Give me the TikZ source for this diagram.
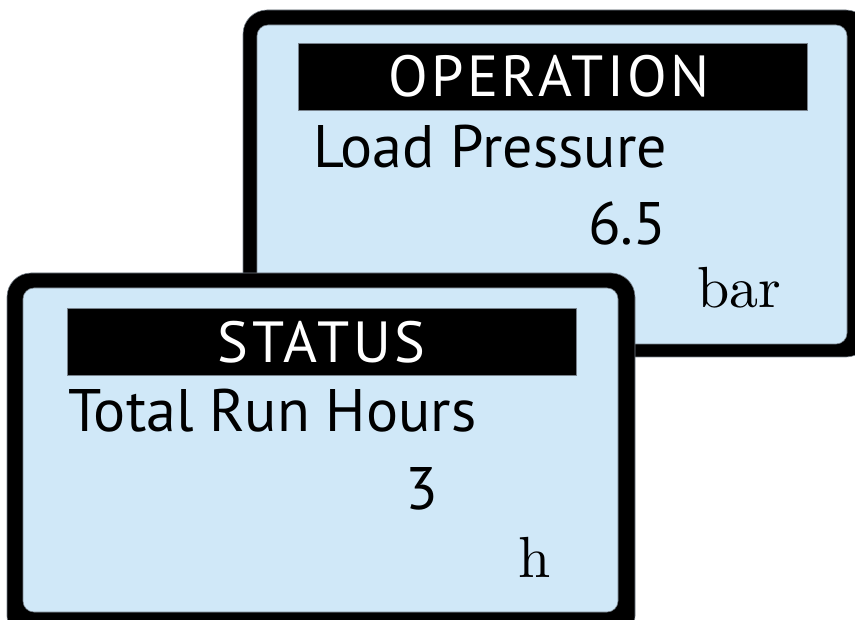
\documentclass[tikz,border=0pt]{standalone}
\usepackage{fontspec}
\newfontfamily\lcdfont{PT Sans}
\newfontfamily\lcdtitle[LetterSpace=6]{PT Sans}
\newfontfamily\unitfont{lmroman10-regular.otf}
\definecolor{lcdblue}{RGB}{208,232,248}
\definecolor{rimgray}{RGB}{120,130,140}
\tikzset{
  bezel/.style={fill=black, draw=rimgray, line width=0.6pt, rounded corners=24pt},
  screen/.style={fill=lcdblue, draw=rimgray, line width=0.6pt, rounded corners=11pt},
  titlebar/.style={fill=black, draw=rimgray, line width=0.5pt, inner sep=0pt,
    minimum width=509pt, minimum height=67pt},
  titletext/.style={text=white, inner sep=0pt, font=\lcdtitle\fontsize{58}{64}\selectfont},
  lcdtext/.style={anchor=base west, inner sep=0pt, font=\lcdfont\fontsize{60}{66}\selectfont},
  unittext/.style={anchor=base west, inner sep=0pt, font=\unitfont\fontsize{58}{63}\selectfont},
}
\begin{document}
\begin{tikzpicture}[x=1pt,y=-1pt]
\useasboundingbox (0,0) rectangle (855,620);
\clip (0,0) rectangle (855,620);

% rear display: OPERATION
\draw[bezel] (243,10) rectangle (870,357);
\draw[screen] (257,25) rectangle (847,344);
\node[titlebar] (opbar) at (553,76.5) {};
\node[titletext] (optitle) at ([xshift=-4pt]opbar.center) {OPERATION};
\node[lcdtext] (oplabel) at (313,168) {Load Pressure};
\node[lcdtext] (opvalue) at (588,245) {6.5};
\node[unittext] (opunit) at (697,308) {bar};

% front display: STATUS
\draw[bezel] (7,273) rectangle (635,640);
\draw[screen] (23,288) rectangle (618,612);
\node[titlebar] (stbar) at (321.5,342) {};
\node[titletext] (sttitle) at (stbar.center) {STATUS};
\node[lcdtext] (stlabel) at (68,432) {Total Run Hours};
\node[lcdtext] (stvalue) at (405,510) {3};
\node[unittext] (stunit) at (518,577) {h};
\end{tikzpicture}
\end{document}
